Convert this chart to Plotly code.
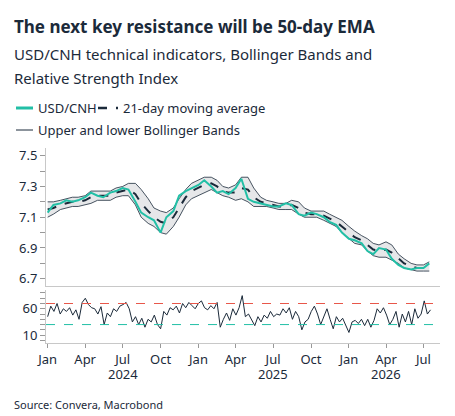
import plotly.graph_objects as go
import pandas as pd

dates = pd.date_range("2024-01-01", "2026-07-15", freq="SMS")
price = [7.13,7.18,7.19,7.21,7.20,7.21,7.23,7.26,7.24,7.23,7.26,7.27,7.29,7.28,7.20,7.13,7.10,7.08,7.00,7.10,7.14,7.24,7.27,7.29,
         7.31,7.34,7.30,7.26,7.27,7.25,7.29,7.35,7.22,7.20,7.19,7.18,7.17,7.17,7.19,7.18,7.12,7.11,7.13,7.12,7.10,7.07,7.05,7.00,
         6.96,6.95,6.93,6.88,6.86,6.90,6.89,6.83,6.79,6.77,6.76,6.77,6.77,6.80]
ma21 = [7.15,7.16,7.18,7.19,7.20,7.20,7.21,7.23,7.24,7.24,7.24,7.26,7.27,7.28,7.25,7.19,7.14,7.10,7.07,7.06,7.10,7.16,7.23,7.27,
        7.29,7.31,7.32,7.30,7.27,7.26,7.26,7.29,7.28,7.23,7.20,7.19,7.18,7.17,7.17,7.18,7.16,7.13,7.12,7.12,7.11,7.09,7.07,7.04,
        7.00,6.97,6.95,6.92,6.89,6.88,6.89,6.87,6.83,6.80,6.78,6.77,6.77,6.78]
band_half = [0.05,0.04,0.03,0.03,0.03,0.03,0.03,0.04,0.03,0.03,0.03,0.03,0.03,0.04,0.07,0.09,0.08,0.06,0.07,0.07,0.06,0.06,0.05,0.05,
             0.05,0.05,0.04,0.04,0.03,0.03,0.05,0.07,0.08,0.06,0.03,0.02,0.02,0.02,0.02,0.03,0.04,0.03,0.02,0.02,0.03,0.03,0.03,0.04,
             0.04,0.04,0.03,0.04,0.04,0.04,0.05,0.05,0.03,0.03,0.02,0.02,0.02,0.03]
upper = [m + w for m, w in zip(ma21, band_half)]
lower = [m - w for m, w in zip(ma21, band_half)]

rsi = [45,65,55,70, 50,60,55,62, 48,58,40,72, 80,68,62,60, 50,64,30,52, 45,60,55,65, 68,72,60,35,
       45,30,42,25, 40,35,48,30, 22,55,48,62, 58,65,52,70, 62,72,66,60,
       70,75,62,58, 66,60,72,25, 40,52,38,60, 48,62,85,45, 50,40,28,45, 35,48,42,55, 45,50,48,60,
       52,62,40,55, 45,20,35,40, 55,65,50,30, 45,60,40,22, 45,35,42,30,
       15,35,38,32, 40,28,40,25, 38,60,52,62, 48,30,40,55, 25,50,35,55, 30,60,42,50, 75,50,58]
rsi_dates = pd.date_range("2024-01-01", "2026-07-18", periods=len(rsi))

tick_vals = ["2024-01-01","2024-04-01","2024-07-01","2024-10-01","2025-01-01","2025-04-01",
             "2025-07-01","2025-10-01","2026-01-01","2026-04-01","2026-07-01"]
tick_text = ["Jan","Apr","Jul","Oct","Jan","Apr","Jul","Oct","Jan","Apr","Jul"]
years = ["2024","2025","2026"]
year_pos = ["2024-07-01","2025-07-01","2026-04-01"]

teal = "#22bfa6"; navy = "#1b2a3a"
fig = go.Figure()
fig.add_trace(go.Scatter(x=dates, y=lower, mode="lines", line=dict(color=navy, width=0.8), showlegend=False))
fig.add_trace(go.Scatter(x=dates, y=upper, mode="lines", line=dict(color=navy, width=0.8), fill="tonexty",
                         fillcolor="#e6e7e9", showlegend=False))
fig.add_trace(go.Scatter(x=dates, y=ma21, mode="lines", line=dict(color=navy, width=2, dash="dash"), showlegend=False))
fig.add_trace(go.Scatter(x=dates, y=price, mode="lines", line=dict(color=teal, width=2), showlegend=False))
fig.add_trace(go.Scatter(x=rsi_dates, y=rsi, mode="lines", line=dict(color=navy, width=1), showlegend=False,
                         xaxis="x2", yaxis="y2"))

xr = ["2023-12-28", "2026-08-10"]
axcol = "#c8c8c8"
fig.update_layout(
    width=455, height=416, margin=dict(l=38, r=23, t=140, b=81),
    plot_bgcolor="white", paper_bgcolor="white",
    font=dict(family="Noto Sans", size=13, color="#1b2a3a"),
    xaxis=dict(range=xr, domain=[0, 1], anchor="y", showline=True, linecolor=axcol, showticklabels=False,
               showgrid=False, tickvals=tick_vals, ticks=""),
    yaxis=dict(domain=[0.29, 1], range=[6.65, 7.55], tickvals=[6.7, 6.9, 7.1, 7.3, 7.5], showgrid=False,
               showline=True, linecolor=axcol, ticks="outside", ticklen=5, tickcolor="#999",
               minor=dict(dtick=0.1, ticks="outside", ticklen=5, tickcolor="#999"), zeroline=False),
    xaxis2=dict(range=xr, domain=[0, 1], anchor="y2", showline=True, linecolor=axcol, showgrid=False,
                tickvals=tick_vals, ticktext=tick_text, ticks="outside", ticklen=4, tickcolor="#999"),
    yaxis2=dict(domain=[0, 0.27], range=[-5, 95], tickvals=[10, 60], showgrid=False, zeroline=False,
                showline=True, linecolor=axcol, ticks="outside", ticklen=5, tickcolor="#999",
                minor=dict(dtick=10, ticks="outside", ticklen=5, tickcolor="#999")),
)
fig.add_hline(y=70, line=dict(color="#e8574a", width=1, dash="dash"), xref="x2", yref="y2")
fig.add_hline(y=30, line=dict(color=teal, width=1, dash="dash"), xref="x2", yref="y2")

def py(p): return (335 - p) / 195
def px(p): return (p - 38) / 394

ann = [
    ("<b>The next key resistance will be 50-day EMA</b>", 4, 18, 17),
    ("USD/CNH technical indicators, Bollinger Bands and", 4, 46, 15),
    ("Relative Strength Index", 4, 70, 15),
    ("USD/CNH", 28, 100, 13),
    ("21-day moving average", 113, 100, 13),
    ("Upper and lower Bollinger Bands", 28, 122, 13),
    ("Source: Convera, Macrobond", 4, 396, 11),
]
for t, x, y, s in ann:
    fig.add_annotation(text=t, x=px(x), y=py(y), xref="paper", yref="paper", xanchor="left", yanchor="middle",
                       showarrow=False, font=dict(size=s))
for yv, xv in zip(years, year_pos):
    fig.add_annotation(text=yv, x=xv, y=py(377), xref="x2", yref="paper", showarrow=False, font=dict(size=13))
fig.add_shape(type="line", xref="paper", yref="paper", x0=px(8), x1=px(25), y0=py(100), y1=py(100),
              line=dict(color=teal, width=3))
fig.add_shape(type="line", xref="paper", yref="paper", x0=px(90), x1=px(110), y0=py(100), y1=py(100),
              line=dict(color=navy, width=2.5, dash="dash"))
fig.add_shape(type="line", xref="paper", yref="paper", x0=px(8), x1=px(25), y0=py(122), y1=py(122),
              line=dict(color=navy, width=1))
fig.write_html("out.html")
